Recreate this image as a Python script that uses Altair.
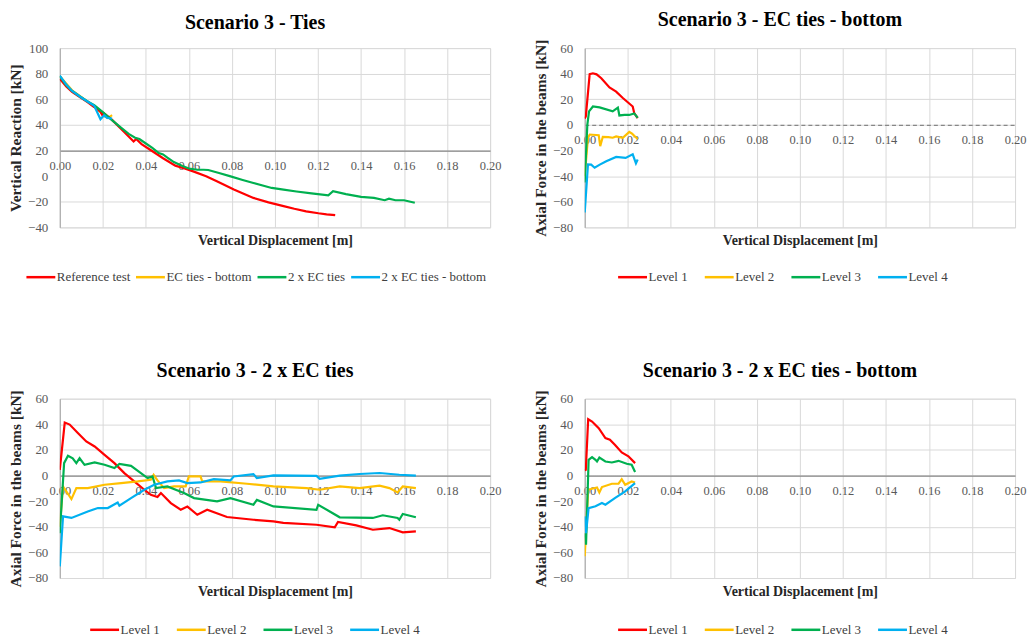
import altair as alt
import pandas as pd

FONT = "Liberation Serif"

# ---------------- tick values ----------------
X_TICKS = [0.00, 0.02, 0.04, 0.06, 0.08, 0.10, 0.12, 0.14, 0.16, 0.18, 0.20]
Y_TICKS_REACTION = [-40, -20, 0, 20, 40, 60, 80, 100]
Y_TICKS_AXIAL = [-80, -60, -40, -20, 0, 20, 40, 60]

COLORS = ["#FF0000", "#FFC000", "#00B050", "#00B0F0"]
SCEN_NAMES = ["Reference test", "EC ties - bottom", "2 x EC ties", "2 x EC ties - bottom"]
LEVEL_NAMES = ["Level 1", "Level 2", "Level 3", "Level 4"]

# ---------------- Panel 1: Scenario 3 - Ties ----------------
P1_REF_X = [0, 0.003, 0.0057, 0.0095, 0.0127, 0.016, 0.0189, 0.0198, 0.0205, 0.0243, 0.0297, 0.0343,
            0.0355, 0.038, 0.042, 0.048, 0.0537, 0.058, 0.062, 0.068, 0.073, 0.0809, 0.090, 0.097,
            0.104, 0.109, 0.1145, 0.1202, 0.124, 0.128]
P1_REF_Y = [76, 70, 65.8, 61.5, 58, 54, 50.3, 47.5, 49, 43.9, 34.8, 27,
            29, 25, 20.6, 14, 8.2, 6, 3.7, 0, -4, -10.5, -17, -20.5,
            -23.4, -25.5, -27.5, -29, -29.8, -30.4]
P1_EC_X = [0, 0.006, 0.0127, 0.018, 0.021, 0.0225, 0.0243]
P1_EC_Y = [78, 66.5, 58.5, 51.5, 46.5, 45.5, 47.7]
P1_2EC_X = [0, 0.003, 0.0057, 0.0095, 0.0127, 0.016, 0.02, 0.0237, 0.028, 0.032, 0.035, 0.037, 0.040,
            0.043, 0.046, 0.048, 0.050, 0.053, 0.057, 0.060, 0.064, 0.0668, 0.069, 0.074, 0.079, 0.085,
            0.090, 0.0985, 0.104, 0.110, 0.117, 0.1248, 0.127, 0.133, 0.140, 0.146, 0.151, 0.153, 0.156,
            0.160, 0.165]
P1_2EC_Y = [78, 71, 66.5, 62, 58.5, 55.5, 50, 44.5, 38.5, 33, 30, 29, 25.5,
            22, 18, 17, 14.5, 11, 8, 6, 5, 5, 4.8, 2.5, 0, -3,
            -5.3, -9.2, -10.5, -12, -13.5, -15, -11.8, -14, -16.2, -17, -18.8, -17.6, -18.8,
            -18.8, -20.8]
P1_2ECB_X = [0, 0.003, 0.0057, 0.0095, 0.0127, 0.016, 0.0189, 0.0206, 0.022, 0.0243]
P1_2ECB_Y = [78.5, 71.5, 66.5, 62, 58.5, 55, 44.4, 47.5, 45.5, 45]

# ---------------- Panel 2: Scenario 3 - EC ties - bottom ----------------
P2_L1_X = [0, 0.0005, 0.0023, 0.0038, 0.0055, 0.0077, 0.0115, 0.0146, 0.0177, 0.0223, 0.023, 0.0246]
P2_L1_Y = [5, 6.7, 39.6, 40.3, 39.5, 36.5, 29.2, 26, 21, 14.4, 9.3, 5.4]
P2_L2_X = [0, 0.0015, 0.0023, 0.0065, 0.0072, 0.0084, 0.011, 0.013, 0.0146, 0.0177, 0.0207, 0.022, 0.023, 0.0246]
P2_L2_Y = [-40, -10, -7.5, -8, -16.6, -9.3, -9.5, -10, -9, -10, -5.5, -6.8, -8.5, -11]
P2_L3_X = [0, 0.0012, 0.002, 0.0038, 0.0069, 0.013, 0.0154, 0.0161, 0.0185, 0.0207, 0.023, 0.0246]
P2_L3_Y = [-45, 0, 10.6, 14.4, 13.7, 10.6, 13.5, 7.4, 7.8, 7.8, 9, 5.6]
P2_L4_X = [0, 0.0015, 0.003, 0.0046, 0.007, 0.01, 0.0146, 0.019, 0.0223, 0.0238, 0.0246]
P2_L4_Y = [-68.4, -30.8, -31, -33.4, -31, -28.3, -25, -25.8, -23, -30, -27]

# ---------------- Panel 3: Scenario 3 - 2 x EC ties ----------------
P3_L1_X = [0, 0.0023, 0.0046, 0.0085, 0.0123, 0.0162, 0.0208, 0.0254, 0.030, 0.0346, 0.0393, 0.0423,
           0.0454, 0.047, 0.0516, 0.0562, 0.0593, 0.0639, 0.0685, 0.0777, 0.09, 0.0993, 0.1039, 0.1193,
           0.1278, 0.1293, 0.1378, 0.1455, 0.1532, 0.1594, 0.1655]
P3_L1_Y = [4.5, 41.4, 39.8, 33.1, 26.6, 22.7, 16.2, 9.7, 1.9, -4.6, -11.1, -15,
           -16.8, -13.7, -21.5, -26.7, -24.2, -30.6, -26.7, -32.4, -34.5, -35.8, -37, -38.4,
           -40.5, -36.3, -38.9, -42.3, -41, -44.4, -43.6]
P3_L2_X = [0, 0.0015, 0.0054, 0.0077, 0.013, 0.0208, 0.0285, 0.0362, 0.0423, 0.0436, 0.0454, 0.0485,
           0.0531, 0.0585, 0.06, 0.0654, 0.0662, 0.0747, 0.087, 0.0993, 0.1147, 0.1208, 0.1301, 0.1393,
           0.1486, 0.1532, 0.157, 0.1594, 0.1655]
P3_L2_Y = [-40, -8.5, -18.4, -9.8, -9.8, -7.2, -5.9, -4.6, -3.3, 0.6, -3.8, -9.8,
           -8.5, -8.5, -0.7, -0.7, -4.6, -4.6, -6.4, -8.5, -9.8, -11.1, -8.5, -9.8,
           -7.9, -9.8, -13.2, -8.5, -9.8]
P3_L3_X = [0, 0.002, 0.0038, 0.006, 0.0077, 0.0092, 0.0115, 0.0162, 0.0208, 0.0254, 0.0277, 0.0331,
           0.0377, 0.0408, 0.0431, 0.0447, 0.05, 0.0577, 0.0624, 0.0731, 0.0793, 0.09, 0.0916, 0.0993,
           0.1193, 0.1201, 0.1301, 0.1455, 0.1501, 0.157, 0.1578, 0.1594, 0.1655]
P3_L3_Y = [-45, 9.7, 15.4, 13.5, 9.7, 13.5, 8.4, 10.3, 8.4, 5.9, 9, 7.6,
           1.9, -2, -0.7, -9.8, -8.5, -13.7, -17.6, -20.2, -17.6, -22.8, -19, -24.1,
           -26.7, -22.8, -32.6, -33.1, -31, -33.1, -34.5, -30, -32.6]
P3_L4_X = [0, 0.0015, 0.0054, 0.013, 0.0177, 0.0223, 0.0269, 0.0277, 0.0331, 0.0393, 0.0439, 0.05,
           0.0554, 0.0593, 0.0654, 0.0716, 0.0793, 0.0808, 0.09, 0.0916, 0.0993, 0.1193, 0.1208, 0.1301,
           0.1393, 0.1486, 0.1578, 0.1655]
P3_L4_Y = [-70.9, -31.9, -33.1, -28, -25.4, -25.4, -21, -23.6, -17.6, -11.1, -7.2, -4.6,
           -3.8, -5.9, -5.4, -2.8, -3.8, -0.7, 1.1, -2, 0.1, -0.3, -2.5, 0,
           1.2, 2, 0.6, 0]

# ---------------- Panel 4: Scenario 3 - 2 x EC ties - bottom ----------------
P4_L1_X = [0, 0.0005, 0.0016, 0.0034, 0.0065, 0.0096, 0.0117, 0.014, 0.0172, 0.0203, 0.0234]
P4_L1_Y = [4, 4.5, 44, 42.2, 37, 29.2, 28, 24, 18, 15, 9.7]
P4_L2_X = [0, 0.0016, 0.0057, 0.0068, 0.008, 0.0126, 0.0157, 0.0172, 0.0188, 0.0218, 0.0234]
P4_L2_Y = [-63, -11.1, -9.3, -13.2, -9, -6.4, -6.4, -2.8, -7.2, -4.6, -5.4]
P4_L3_X = [0, 0.0006, 0.0018, 0.0034, 0.005, 0.0057, 0.0068, 0.0096, 0.0126, 0.0157, 0.0195, 0.0218, 0.0234]
P4_L3_Y = [-45, -54, 12.3, 14.4, 12.3, 11, 14, 11, 10.2, 11.5, 9.2, 8.4, 2.7]
P4_L4_X = [0, 0.0006, 0.0018, 0.005, 0.008, 0.0096, 0.014, 0.0188, 0.0234]
P4_L4_Y = [-31.9, -44.9, -25.4, -24, -21.5, -22.8, -17.6, -12.4, -5.9]

W = 432
H = 180


def panel(title, names, series, draw_order, ydomain, yticks, ytitle, cross, hidden,
          dashed, legend_x, legend_y, col_pad):
    ymin, ymax = ydomain
    cross_px = (cross - ymin) / (ymax - ymin) * H
    color = alt.Color(
        "series:N",
        scale=alt.Scale(domain=names, range=COLORS),
        title=None,
        legend=alt.Legend(
            orient="none", legendX=legend_x, legendY=legend_y, direction="horizontal",
            columns=4, symbolType="stroke", symbolSize=841, symbolStrokeWidth=2.5,
            labelFont=FONT, labelFontSize=13, labelColor="#404040", labelOffset=0,
            columnPadding=col_pad, padding=0,
        ),
    )
    x_axis = alt.Axis(
        values=X_TICKS, format=".2f", offset=-cross_px, ticks=False, labelPadding=9,
        labelFlush=False, labelOverlap=False, labelFont=FONT, labelFontSize=12.5,
        labelColor="#595959", domainColor="#878787", domainWidth=1.2,
        domainDash=[4, 3] if dashed else [1, 0],
        gridColor="#d9d9d9", gridWidth=1,
        title="Vertical Displacement [m]", titleFont=FONT, titleFontSize=14,
        titleFontWeight="bold", titleColor="#262626", titleY=cross_px + 13.5,
        titleBaseline="middle",
    )
    y_axis = alt.Axis(
        values=yticks, ticks=False, labelPadding=12, labelFlush=False, labelFont=FONT,
        labelFontSize=13, labelColor="#595959", domainColor="#a6a6a6",
        gridColor={"condition": {"test": f"datum.value === {hidden}", "value": "transparent"},
                   "value": "#d9d9d9"},
        title=ytitle, titleFont=FONT, titleFontSize=15.5, titleFontWeight="bold",
        titleColor="#262626", titlePadding=4,
    )
    layers = []
    for i in draw_order:
        xs, ys = series[i]
        df = pd.DataFrame({"x": xs, "y": ys, "series": names[i]})
        layers.append(
            alt.Chart(df).mark_line(strokeWidth=2.2, clip=True).encode(
                x=alt.X("x:Q", scale=alt.Scale(domain=[0, 0.2], nice=False, zero=False), axis=x_axis),
                y=alt.Y("y:Q", scale=alt.Scale(domain=list(ydomain), nice=False, zero=False), axis=y_axis),
                color=color,
            )
        )
    return alt.layer(*layers).properties(
        width=W, height=H,
        title=alt.TitleParams(title, font=FONT, fontSize=20, fontWeight="bold", color="black",
                              anchor="middle", dx=-20, offset=9),
    )


p1 = panel("Scenario 3 - Ties", SCEN_NAMES,
           [(P1_REF_X, P1_REF_Y), (P1_EC_X, P1_EC_Y), (P1_2EC_X, P1_2EC_Y), (P1_2ECB_X, P1_2ECB_Y)],
           [1, 0, 2, 3], (-40, 100), Y_TICKS_REACTION, "Vertical Reaction [kN]", 20, 0, False,
           -35, 214, 0)
p2 = panel("Scenario 3 - EC ties - bottom", LEVEL_NAMES,
           [(P2_L1_X, P2_L1_Y), (P2_L2_X, P2_L2_Y), (P2_L3_X, P2_L3_Y), (P2_L4_X, P2_L4_Y)],
           [0, 1, 2, 3], (-80, 60), Y_TICKS_AXIAL, "Axial Force in the beams [kN]", 0, -20, True,
           32, 214, 11)
p3 = panel("Scenario 3 - 2 x EC ties", LEVEL_NAMES,
           [(P3_L1_X, P3_L1_Y), (P3_L2_X, P3_L2_Y), (P3_L3_X, P3_L3_Y), (P3_L4_X, P3_L4_Y)],
           [0, 1, 2, 3], (-80, 60), Y_TICKS_AXIAL, "Axial Force in the beams [kN]", 0, -20, False,
           29, 216, 11)
p4 = panel("Scenario 3 - 2 x EC ties - bottom", LEVEL_NAMES,
           [(P4_L1_X, P4_L1_Y), (P4_L2_X, P4_L2_Y), (P4_L3_X, P4_L3_Y), (P4_L4_X, P4_L4_Y)],
           [0, 1, 2, 3], (-80, 60), Y_TICKS_AXIAL, "Axial Force in the beams [kN]", 0, -20, False,
           32, 216, 11)

chart = alt.concat(
    p1, p2, p3, p4, columns=2, spacing={"row": 172, "column": 95}, bounds="flush"
).resolve_scale(color="independent").properties(
    padding={"left": 0, "top": 0, "right": 0, "bottom": 0}
).configure_view(stroke="transparent").configure(background="white")

chart.save("out.html", embed_options={"renderer": "svg", "actions": False})
